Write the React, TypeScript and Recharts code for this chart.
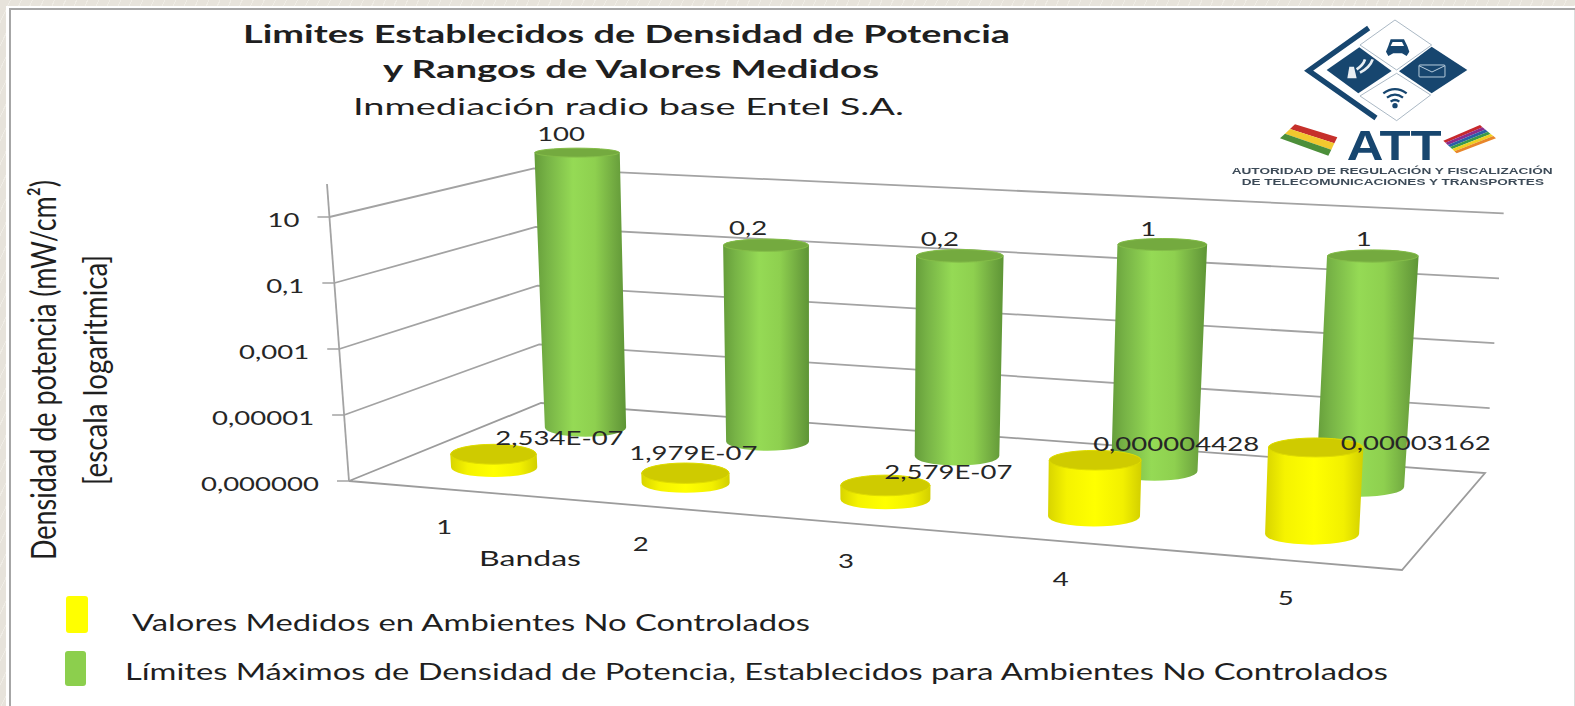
import { BarChart, Bar, XAxis, YAxis, CartesianGrid, LabelList } from "recharts";

const bands = ["1", "2", "3", "4", "5"];
const measured = [2.534e-7, 1.979e-7, 2.579e-7, 4.428e-6, 3.162e-5];
const limits = [100, 0.2, 0.2, 1, 1];
const measuredLabels = ["2,534E-07", "1,979E-07", "2,579E-07", "0,000004428", "0,00003162"];
const limitLabels = ["100", "0,2", "0,2", "1", "1"];
const yTicks = [1e-7, 1e-5, 1e-3, 0.1, 10];
const yTickLabels = ["0,000000", "0,00001", "0,001", "0,1", "10"];
const seriesNames = [
  "Valores Medidos en Ambientes No Controlados",
  "Límites  Máximos de Densidad de Potencia, Establecidos para Ambientes No Controlados",
];

const chartData = bands.map((band, i) => ({ band, measured: measured[i], limit: limits[i] }));

// flat plot the library scales into, then projected onto the 3d box
const PLOT_W = 1000;
const PLOT_H = 700;
const FONT = "Lato, 'Open Sans', sans-serif";
const WIDEN = 1.45;

// floor corners on screen: front left, front right, back right, back left
const FL = [349, 481];
const FR = [1402, 570];
const BR = [1485, 473];
const BL = [541, 403];
// screen vector of the full axis height at those corners
const H_FL = [-22, -297];
const H_FR = [15, -322];
const H_BR = [21, -292];
const H_BL = [-8, -264];

const den = (FR[0] - BR[0]) * (BL[1] - BR[1]) - (BL[0] - BR[0]) * (FR[1] - BR[1]);
const sx = FL[0] - FR[0] + BR[0] - BL[0];
const sy = FL[1] - FR[1] + BR[1] - BL[1];
const g = (sx * (BL[1] - BR[1]) - (BL[0] - BR[0]) * sy) / den;
const h = ((FR[0] - BR[0]) * sy - sx * (FR[1] - BR[1])) / den;

const persp = (u: number, v: number) => 1 + g * u + h * v;

function project(u: number, v: number, w: number) {
  const d = persp(u, v);
  const fx = ((FR[0] - FL[0] + g * FR[0]) * u + (BL[0] - FL[0] + h * BL[0]) * v + FL[0]) / d;
  const fy = ((FR[1] - FL[1] + g * FR[1]) * u + (BL[1] - FL[1] + h * BL[1]) * v + FL[1]) / d;
  const mix = (k: number) =>
    (1 - v) * ((1 - u) * H_FL[k] + u * H_FR[k]) + v * ((1 - u) * H_BL[k] + u * H_BR[k]);
  return [fx + mix(0) * w, fy + mix(1) * w];
}

const toU = (x: number) => x / PLOT_W;
const toW = (y: number) => (PLOT_H - y) / PLOT_H;
const pts = (list: number[][]) => list.map((p) => p.join(",")).join(" ");

function Wide({ x, y, children, anchor = "middle", size = 19 }: any) {
  return (
    <text
      transform={`translate(${x} ${y}) scale(${WIDEN} 1)`}
      textAnchor={anchor}
      fontFamily={FONT}
      fontSize={size}
      fill="#262626"
    >
      {children}
    </text>
  );
}

function renderLevel(props: any) {
  const w = toW(props.y1);
  // the grid also hands over the plot's top edge, the wall has no line there
  if (w > 0.95) return <g key={props.key} />;
  const front = project(0, 0, w);
  const back = project(0, 1, w);
  const right = project(1, 1, w);
  const isFloor = w < 0.001;
  return (
    <g key={props.key}>
      {isFloor ? (
        <>
          <polygon
            points={pts([project(0, 0, 0), project(1, 0, 0), project(1, 1, 0), project(0, 1, 0)])}
            fill="#fff"
            stroke="#9c9c9c"
            strokeWidth={1.8}
          />
          <line
            x1={project(0, 0, 0)[0]}
            y1={project(0, 0, 0)[1]}
            x2={project(0, 0, 1)[0]}
            y2={project(0, 0, 1)[1]}
            stroke="#a3a3a3"
            strokeWidth={1.8}
          />
        </>
      ) : (
        <polyline points={pts([front, back, right])} fill="none" stroke="#a3a3a3" strokeWidth={1.8} />
      )}
    </g>
  );
}

function YTick({ y, index }: any) {
  const w = toW(y);
  const [px, py] = project(0, 0, w);
  return (
    <g>
      <line x1={px - 12} y1={py} x2={px} y2={py} stroke="#a3a3a3" strokeWidth={1.5} />
      <Wide x={px - 30} y={py + 10} anchor="end">
        {yTickLabels[index]}
      </Wide>
    </g>
  );
}

function XTick({ x, index }: any) {
  const [px, py] = project(toU(x), 0, 0);
  return (
    <Wide x={px} y={py + 45}>
      {bands[index]}
    </Wide>
  );
}

function cylinder(depth: number, bodyFill: string, topFill: string, edge: string) {
  return function Cylinder(props: any) {
    const { x, y, width } = props;
    const u = toU(x + width / 2);
    const w = toW(y);
    const base = project(u, depth, 0);
    const top = project(u, depth, w);
    const rBase = width / persp(u, depth) / 2;
    const rTop = rBase * (1 + 0.05 * w);
    const ryBase = rBase * 0.225;
    const ryTop = rTop * (0.235 - 0.13 * w);
    const d = [
      `M${base[0] - rBase},${base[1]}`,
      `L${top[0] - rTop},${top[1]}`,
      `A${rTop},${ryTop} 0 0 1 ${top[0] + rTop},${top[1]}`,
      `L${base[0] + rBase},${base[1]}`,
      `A${rBase},${ryBase} 0 0 1 ${base[0] - rBase},${base[1]}`,
      "Z",
    ].join(" ");
    return (
      <g>
        <path d={d} fill={bodyFill} />
        <ellipse cx={top[0]} cy={top[1]} rx={rTop - 0.5} ry={ryTop} fill={topFill} stroke={edge} strokeWidth={1} />
      </g>
    );
  };
}

// hand placed in the original, relative to the top of the cylinder
const limitNudge = [[-16, -12], [-18, -10], [-20, -10], [-14, -9], [-9, -10]];
const measuredNudge = [[66, -9], [8, -13], [63, -6], [81, -9], [100, 3]];

function valueLabel(depth: number, texts: string[], nudge: number[][]) {
  return function ValueLabel(props: any) {
    const { x, y, width, index } = props;
    const [px, py] = project(toU(x + width / 2), depth, toW(y));
    return (
      <Wide x={px + nudge[index][0]} y={py + nudge[index][1]}>
        {texts[index]}
      </Wide>
    );
  };
}

const NAVY = "#17466f";
const wiphala = ["#c8282d", "#8a2d8c", "#2a5fa8", "#3a9a4a", "#f0d020", "#e8862a"];

function Logo() {
  const lerp = (a: number[], b: number[], t: number) => [a[0] + (b[0] - a[0]) * t, a[1] + (b[1] - a[1]) * t];
  const tl = [730, 392];
  const tr = [840, 345];
  const br = [888, 385];
  const bl = [770, 430];
  return (
    <g transform="translate(1200 10) scale(0.3333)" style={{ filter: "blur(0.5px)" }}>
      <polygon points="585,30 695,105 590,180 480,105" fill="#fff" stroke="#aab8c4" strokeWidth={3} />
      <polygon points="590,190 692,255 590,332 480,258" fill="#fff" stroke="#aab8c4" strokeWidth={3} />
      <polygon points="695,110 802,180 695,250 597,184" fill={NAVY} />
      <polygon points="478,112 575,183 475,250 380,180" fill={NAVY} />
      <polyline points="506,54 326,182 528,324" fill="none" stroke={NAVY} strokeWidth={16} />
      <polygon points="572,88 612,88 622,108 628,125 620,138 606,130 580,130 565,138 558,125 565,108" fill={NAVY} />
      <polygon points="578,96 606,96 612,108 572,108" fill="#fff" />
      <rect x={657} y={165} width={78} height={36} rx={3} fill="none" stroke="#b9cddd" strokeWidth={3} />
      <polyline points="657,167 696,186 735,167" fill="none" stroke="#b9cddd" strokeWidth={3} />
      <path d="M442,205 L470,205 L462,170 L448,170 Z" fill="#e8eef3" />
      <path d="M470,178 Q490,165 495,148 M480,188 Q510,172 518,148" fill="none" stroke="#e8eef3" strokeWidth={8} />
      <path d="M550,250 Q585,225 620,250 M561,263 Q585,245 609,263 M572,275 Q585,265 598,275" fill="none" stroke={NAVY} strokeWidth={7} />
      <circle cx={585} cy={287} r={8} fill={NAVY} />
      <polygon points="285,343 412,382 403,400 270,357" fill="#c6302b" />
      <polygon points="270,357 403,400 394,419 255,371" fill="#f2c82e" />
      <polygon points="255,371 394,419 385,437 240,385" fill="#4c8f3a" />
      {wiphala.map((c, i) => {
        const a = lerp(tl, bl, i / 6);
        const b = lerp(tr, br, i / 6);
        const e = lerp(tl, bl, (i + 1) / 6);
        const f = lerp(tr, br, (i + 1) / 6);
        return <polygon key={c} points={pts([a, b, f, e])} fill={c} />;
      })}
      <text x={440} y={450} fontFamily="'Liberation Sans', Arial" fontWeight={700} fontSize={125} textLength={285} lengthAdjust="spacingAndGlyphs" fill={NAVY}>
        ATT
      </text>
      <text x={95} y={493} fontFamily="'Liberation Sans', Arial" fontWeight={700} fontSize={28} textLength={963} lengthAdjust="spacingAndGlyphs" fill="#3d4b58">
        AUTORIDAD DE REGULACIÓN Y FISCALIZACIÓN
      </text>
      <text x={125} y={525} fontFamily="'Liberation Sans', Arial" fontWeight={700} fontSize={28} textLength={907} lengthAdjust="spacingAndGlyphs" fill="#3d4b58">
        DE TELECOMUNICACIONES Y TRANSPORTES
      </text>
    </g>
  );
}

function Overlay() {
  const line = (x: number, y: number, len: number, size: number, text: string, weight = 400) => (
    <text x={x} y={y} fontFamily={FONT} fontSize={size} fontWeight={weight} fill="#1f1f1f" textLength={len} lengthAdjust="spacingAndGlyphs">
      {text}
    </text>
  );
  return (
    <svg width={1575} height={706} style={{ position: "absolute", left: 0, top: 0, pointerEvents: "none" }}>
      {line(243, 43, 767, 24, "Limites Establecidos de Densidad de Potencia", 700)}
      {line(383, 78, 496, 24, "y Rangos de Valores Medidos", 700)}
      {line(353, 115, 551, 24, "Inmediación radio base Entel S.A.")}
      {line(479, 566, 102, 22, "Bandas")}
      <g transform="rotate(-90 56 560)">{line(56, 560, 380, 34, "Densidad de potencia (mW/cm²)")}</g>
      <g transform="rotate(-90 107 485)">{line(107, 485, 230, 32, "[escala logaritmica]")}</g>
      <rect x={66} y={596} width={22} height={37} rx={3} fill="#ffff00" />
      <rect x={65} y={651} width={21} height={35} rx={3} fill="#8ccf4d" />
      {line(132, 631, 678, 23, seriesNames[0])}
      {line(125, 680, 1263, 23, seriesNames[1])}
      <Logo />
    </svg>
  );
}

const pageStyle: any = {
  position: "absolute",
  left: 0,
  top: 0,
  width: 1575,
  height: 706,
  overflow: "hidden",
  background: "repeating-linear-gradient(115deg, #e7e3db 0 9px, #efece5 9px 10px)",
};

export default function App() {
  return (
    <div style={pageStyle}>
      <div style={{ position: "absolute", left: 6, top: 6, right: 0, bottom: 0, background: "#fff" }} />
      <div style={{ position: "absolute", left: 9, top: 8, right: 0, height: 2, background: "#a6a6a6" }} />
      <div style={{ position: "absolute", left: 9, top: 8, bottom: 0, width: 2, background: "#a6a6a6" }} />
      <div style={{ position: "absolute", right: 0, top: 10, bottom: 0, width: 1, background: "#dcdcdc" }} />
      <div style={{ position: "absolute", left: 0, top: 0 }}>
        <BarChart
          width={1575}
          height={PLOT_H}
          data={chartData}
          margin={{ top: 0, right: 1575 - PLOT_W, bottom: -1, left: -1 }}
          barCategoryGap="28%"
        >
          <defs>
            <linearGradient id="greenBody" x1="0" y1="0" x2="1" y2="0">
              <stop offset="0" stopColor="#659d3a" />
              <stop offset="0.14" stopColor="#77b346" />
              <stop offset="0.42" stopColor="#95da55" />
              <stop offset="0.66" stopColor="#8ed04f" />
              <stop offset="0.88" stopColor="#70a840" />
              <stop offset="1" stopColor="#5e9536" />
            </linearGradient>
            <linearGradient id="yellowBody" x1="0" y1="0" x2="1" y2="0">
              <stop offset="0" stopColor="#d8d400" />
              <stop offset="0.2" stopColor="#f5f300" />
              <stop offset="0.5" stopColor="#ffff00" />
              <stop offset="0.8" stopColor="#f2f000" />
              <stop offset="1" stopColor="#d2cf00" />
            </linearGradient>
          </defs>
          <CartesianGrid vertical={false} horizontal={renderLevel} />
          <XAxis
            xAxisId="rear"
            dataKey="band"
            height={1}
            interval={0}
            axisLine={false}
            tickLine={false}
            tick={XTick}
          />
          <XAxis xAxisId="front" dataKey="band" hide />
          <YAxis
            width={1}
            scale="log"
            domain={[1e-7, 100]}
            ticks={yTicks}
            interval={0}
            axisLine={false}
            tickLine={false}
            tick={YTick}
          />
          <Bar
            xAxisId="rear"
            dataKey="limit"
            isAnimationActive={false}
            shape={cylinder(0.75, "url(#greenBody)", "#74aa3f", "#84bd49")}
          >
            <LabelList dataKey="limit" content={valueLabel(0.75, limitLabels, limitNudge)} />
          </Bar>
          <Bar
            xAxisId="front"
            dataKey="measured"
            isAnimationActive={false}
            shape={cylinder(0.25, "url(#yellowBody)", "#cfcb00", "#dedb00")}
          >
            <LabelList dataKey="measured" content={valueLabel(0.25, measuredLabels, measuredNudge)} />
          </Bar>
        </BarChart>
      </div>
      <Overlay />
    </div>
  );
}
